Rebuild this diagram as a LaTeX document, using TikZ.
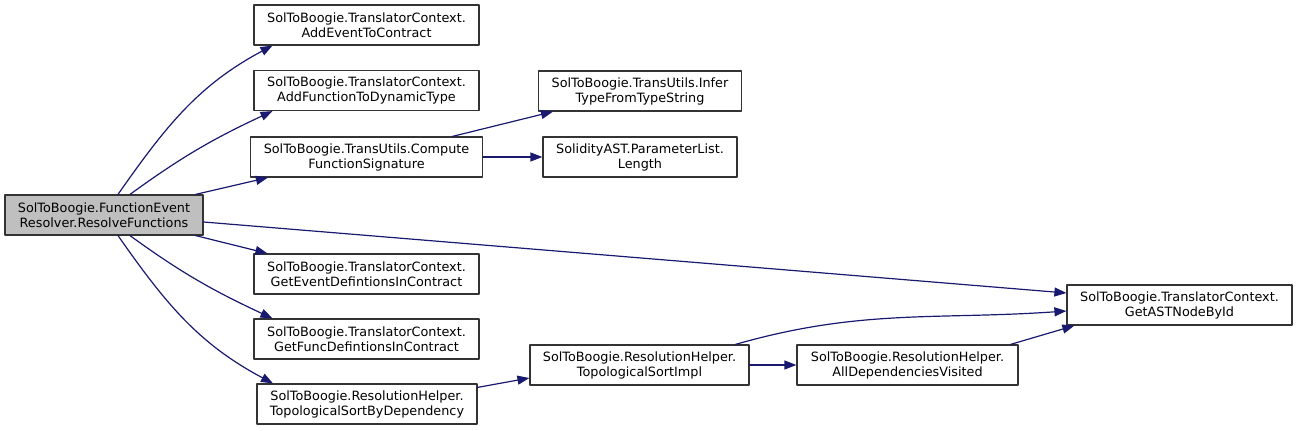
\documentclass[tikz,border=0pt]{standalone}
\usepackage{fontspec}
\setmainfont{DejaVu Sans}
\usetikzlibrary{arrows.meta}
\definecolor{edgeblue}{HTML}{191970}
\definecolor{rootgray}{HTML}{BFBFBF}

\begin{document}
\begin{tikzpicture}[x=1pt,y=1pt,>={Triangle[length=12pt,width=9pt]},line cap=round,line join=round,
  fn/.style={draw=black!80,line width=1.2pt,fill=white,align=center,inner sep=0pt,minimum height=40pt,font=\fontsize{12.8}{15}\selectfont},
  call/.style={->,draw=edgeblue,line width=1.2pt}]
\useasboundingbox (0,0) rectangle (1296,431);
\node[fn,fill=rootgray,minimum width=198pt] (root) at (104,216) {SolToBoogie.FunctionEvent\\Resolver.ResolveFunctions};
\node[fn,minimum width=225pt] (addEvent) at (366.5,406) {SolToBoogie.TranslatorContext.\\AddEventToContract};
\node[fn,minimum width=225pt] (addFunc) at (366.5,340.5) {SolToBoogie.TranslatorContext.\\AddFunctionToDynamicType};
\node[fn,minimum width=232pt] (computeSig) at (366.5,274) {SolToBoogie.TransUtils.Compute\\FunctionSignature};
\node[fn,minimum width=225pt] (getEvent) at (366.5,157) {SolToBoogie.TranslatorContext.\\GetEventDefintionsInContract};
\node[fn,minimum width=225pt] (getFunc) at (366.5,92) {SolToBoogie.TranslatorContext.\\GetFuncDefintionsInContract};
\node[fn,minimum width=220pt] (topoDep) at (367,27) {SolToBoogie.ResolutionHelper.\\TopologicalSortByDependency};
\node[fn,minimum width=203pt] (inferType) at (640,340) {SolToBoogie.TransUtils.Infer\\TypeFromTypeString};
\node[fn,minimum width=194pt] (paramLen) at (640,274) {SolidityAST.ParameterList.\\Length};
\node[fn,minimum width=219pt] (topoImpl) at (639.5,66) {SolToBoogie.ResolutionHelper.\\TopologicalSortImpl};
\node[fn,minimum width=221pt] (allDeps) at (907.5,66) {SolToBoogie.ResolutionHelper.\\AllDependenciesVisited};
\node[fn,minimum width=225pt] (astNode) at (1179.5,126) {SolToBoogie.TranslatorContext.\\GetASTNodeById};
\draw[call] ([xshift=14pt]root.north) to[out=55,in=208] ([xshift=-94pt]addEvent.south);
\draw[call] ([xshift=26pt]root.north) to[out=36,in=205] ([xshift=-94pt]addFunc.south);
\draw[call] ([xshift=-8pt]root.north east) -- ([xshift=18pt]computeSig.south west);
\draw[call] ([yshift=-7pt]root.east) -- ([yshift=12pt]astNode.west);
\draw[call] ([xshift=-8pt]root.south east) -- ([xshift=14pt]getEvent.north west);
\draw[call] ([xshift=26pt]root.south) to[out=-36,in=155] ([xshift=-94pt]getFunc.north);
\draw[call] ([xshift=14pt]root.south) to[out=-55,in=152] ([xshift=-94pt]topoDep.north);
\draw[call] ([xshift=86pt]computeSig.north) -- ([xshift=-87pt]inferType.south);
\draw[call] (computeSig) -- (paramLen);
\draw[call] ([yshift=-4pt]topoDep.north east) -- ([yshift=-13pt]topoImpl.west);
\draw[call] (topoImpl) -- (allDeps);
\draw[call] ([xshift=96pt]topoImpl.north) to[out=16,in=184] ([yshift=-6pt]astNode.west);
\draw[call] ([xshift=-8pt]allDeps.north east) -- ([xshift=8pt]astNode.south west);
\end{tikzpicture}
\end{document}
